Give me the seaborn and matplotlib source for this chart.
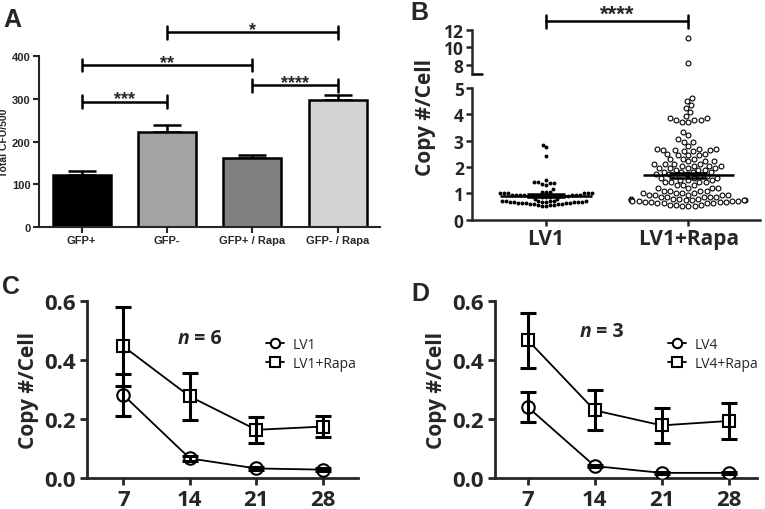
import numpy as np
import pandas as pd
import matplotlib
matplotlib.use("Agg")
import matplotlib.pyplot as plt
import seaborn as sns
import warnings
warnings.filterwarnings("ignore")

sns.set_style("ticks")
plt.rcParams["font.family"] = ["Open Sans", "DejaVu Sans"]

# ---------------- Panel A data ----------------
a_groups = ["GFP+", "GFP-", "GFP+ / Rapa", "GFP- / Rapa"]
a_means = [122, 223, 161, 298]
a_err = [9, 16, 8, 11]
a_colors = ["#000000", "#a3a3a3", "#808080", "#d4d4d4"]
a_yticks = [0, 100, 200, 300, 400]
a_sig_pairs = [(0, 1), (0, 2), (2, 3), (1, 3)]
a_sig_y = [293, 379, 332, 456]
a_sig_text = ["***", "**", "****", "*"]

# ---------------- Panel B data ----------------
b_groups = ["LV1", "LV1+Rapa"]
lv1_vals = [2.85, 2.75, 2.42, 1.52, 1.45, 1.42, 1.40, 1.38, 1.36, 1.33, 1.16,
            1.05, 1.00, 0.95, 0.92, 0.88, 0.80, 0.72, 0.68, 0.64, 0.60, 0.56, 0.52]
lv1_counts = [1, 1, 1, 1, 1, 1, 1, 1, 1, 1, 1,
              3, 6, 7, 7, 3, 2, 6, 7, 5, 4, 3, 2]
rapa_vals = [11.1, 8.2, 4.62, 4.5, 4.35, 4.25, 4.08, 3.92, 3.85, 3.78, 3.72,
             3.32, 3.2, 3.05, 2.95, 2.8, 2.7, 2.65, 2.6, 2.5, 2.45, 2.3, 2.22,
             2.12, 2.05, 1.97, 1.9, 1.82, 1.72, 1.65, 1.58, 1.5, 1.42, 1.3, 1.2,
             1.1, 1.02, 0.95, 0.88, 0.8, 0.74, 0.7, 0.66, 0.62, 0.58, 0.54]
rapa_counts = [1, 1, 1, 1, 1, 1, 1, 1, 2, 3, 2,
               1, 1, 1, 2, 1, 3, 3, 2, 2, 3, 3, 3,
               4, 4, 4, 3, 4, 3, 3, 3, 3, 4, 3, 4,
               4, 4, 5, 5, 4, 5, 4, 4, 4, 3, 3]
b_means = [0.92, 1.68]
b_sem = [0.05, 0.09]
b_low_ticks = [0, 1, 2, 3, 4, 5]
b_high_ticks = [8, 10, 12]

# ---------------- Panels C / D data ----------------
days = [7, 14, 21, 28]
c_lv1 = [0.281, 0.066, 0.032, 0.028]
c_lv1_err = [0.070, 0.008, 0.005, 0.004]
c_rapa = [0.446, 0.276, 0.163, 0.174]
c_rapa_err = [0.135, 0.080, 0.045, 0.036]
d_lv4 = [0.240, 0.040, 0.017, 0.017]
d_lv4_err = [0.052, 0.004, 0.003, 0.003]
d_rapa = [0.467, 0.229, 0.178, 0.193]
d_rapa_err = [0.093, 0.068, 0.059, 0.062]
cd_yticks = [0.0, 0.2, 0.4, 0.6]

fig = plt.figure(figsize=(7.65, 5.10), dpi=100)
ARIAL = ["Liberation Sans", "DejaVu Sans"]

# ================= Panel A =================
axA = fig.add_axes([0.051, 0.553, 0.446, 0.335])
dfA = pd.DataFrame({"group": a_groups, "cfu": a_means})
sns.barplot(data=dfA, x="group", y="cfu", hue="group", palette=a_colors,
            legend=False, width=0.68, edgecolor="black", linewidth=1.8,
            saturation=1, errorbar=None, ax=axA, zorder=2)
axA.errorbar(range(len(a_groups)), a_means, yerr=[np.zeros(len(a_err)), a_err],
             fmt="none", ecolor="black", elinewidth=1.8, capsize=10,
             capthick=1.8, zorder=1)
axA.set_xlim(-0.5, 3.5)
axA.set_ylim(0, 400)
axA.set_yticks(a_yticks)
axA.set_xlabel("")
axA.set_ylabel("Total CFU/500", fontsize=7.5, fontweight="bold", family=ARIAL, labelpad=2)
for s in ["top", "right"]:
    axA.spines[s].set_visible(False)
for s in ["left", "bottom"]:
    axA.spines[s].set_linewidth(1.5)
axA.tick_params(axis="both", width=1.5, length=4, direction="out", pad=2)
for lab in axA.get_yticklabels() + axA.get_xticklabels():
    lab.set_fontweight("bold")
    lab.set_family(ARIAL)
    lab.set_fontsize(8)
for (i, j), y, t in zip(a_sig_pairs, a_sig_y, a_sig_text):
    axA.plot([i, j], [y, y], color="black", lw=1.8, clip_on=False, solid_capstyle="butt")
    axA.plot([i, i], [y - 15, y + 15], color="black", lw=1.8, clip_on=False)
    axA.plot([j, j], [y - 15, y + 15], color="black", lw=1.8, clip_on=False)
    axA.text((i + j) / 2, y - 4, t, ha="center", va="baseline", fontsize=13,
             fontweight="bold", family=ARIAL, clip_on=False)

# ================= Panel B =================
lv1_all = np.repeat(lv1_vals, lv1_counts)
rapa_all = np.repeat(rapa_vals, rapa_counts)
dfB1 = pd.DataFrame({"group": "LV1", "copy": lv1_all})
dfB2 = pd.DataFrame({"group": "LV1+Rapa", "copy": rapa_all})

axBl = fig.add_axes([0.617, 0.567, 0.376, 0.259])
axBu = fig.add_axes([0.617, 0.853, 0.376, 0.086])
for ax in (axBl, axBu):
    sns.swarmplot(data=dfB1, x="group", y="copy", order=b_groups, color="black",
                  size=2.8, linewidth=0, ax=ax, warn_thresh=1)
    sns.swarmplot(data=dfB2, x="group", y="copy", order=b_groups, color="white",
                  edgecolor="black", linewidth=0.8, size=3.5, ax=ax, warn_thresh=1)
    ax.set_xlim(-0.52, 1.5)
    ax.set_xlabel("")
    ax.set_ylabel("")
    ax.spines["top"].set_visible(False)
    ax.spines["right"].set_visible(False)
    ax.spines["left"].set_linewidth(1.8)
    ax.spines["bottom"].set_linewidth(1.8)
    ax.tick_params(axis="both", width=1.8, length=4, direction="out", labelsize=12.5, pad=2)
    for i in range(len(b_groups)):
        ax.hlines(b_means[i], i - 0.32, i + 0.32, color="black", lw=1.8, zorder=5)
        ax.errorbar(i, b_means[i], yerr=b_sem[i], fmt="none", ecolor="black",
                    elinewidth=1.8, capsize=14, capthick=1.8, zorder=5)
axBl.set_ylim(0, 5)
axBl.set_yticks(b_low_ticks)
axBu.set_ylim(6.9, 12)
axBu.set_yticks(b_high_ticks)
axBu.spines["bottom"].set_visible(False)
axBu.tick_params(axis="x", bottom=False, labelbottom=False)
axBu.plot([0, 0.035], [6.9, 6.9], transform=axBu.get_yaxis_transform(),
          color="black", lw=1.8, clip_on=False)
for ax in (axBl, axBu):
    for lab in ax.get_yticklabels() + ax.get_xticklabels():
        lab.set_fontweight("bold")
for lab in axBl.get_xticklabels():
    lab.set_fontsize(15)
axBu.plot([0, 1], [13.06, 13.06], color="black", lw=1.8, clip_on=False)
axBu.plot([0, 0], [12.3, 13.8], color="black", lw=1.8, clip_on=False)
axBu.plot([1, 1], [12.3, 13.8], color="black", lw=1.8, clip_on=False)
axBu.text(0.5, 13.25, "****", ha="center", va="baseline", fontsize=16,
          fontweight="bold", family=ARIAL, clip_on=False)
fig.text(0.556, 0.77, "Copy #/Cell", rotation=90, ha="center", va="center",
         fontsize=15, fontweight="bold")


# ================= Panels C, D =================
def line_panel(rect, xlim, base, base_err, rapa, rapa_err, labels, ntext, npos):
    ax = fig.add_axes(rect)
    dfl = pd.DataFrame({"day": days + days,
                        "copy": list(base) + list(rapa),
                        "grp": [labels[0]] * len(days) + [labels[1]] * len(days)})
    sns.lineplot(data=dfl, x="day", y="copy", style="grp", markers=["o", "s"],
                 dashes=False, color="black", lw=1.3, markersize=9,
                 markerfacecolor="white", markeredgecolor="black",
                 markeredgewidth=1.5, ax=ax, zorder=3)
    ax.errorbar(days, base, yerr=base_err, fmt="none", ecolor="black",
                elinewidth=2.2, capsize=6, capthick=2.2, zorder=4)
    ax.errorbar(days, rapa, yerr=rapa_err, fmt="none", ecolor="black",
                elinewidth=2.2, capsize=6, capthick=2.2, zorder=4)
    ax.set_xlim(*xlim)
    ax.set_ylim(0, 0.6)
    ax.set_xticks(days)
    ax.set_xticklabels([str(d) for d in days])
    ax.set_yticks(cd_yticks)
    ax.set_yticklabels([f"{v:.1f}" for v in cd_yticks])
    ax.set_xlabel("")
    ax.set_ylabel("Copy #/Cell", fontsize=15, fontweight="bold", labelpad=4)
    for s in ["top", "right"]:
        ax.spines[s].set_visible(False)
    for s in ["left", "bottom"]:
        ax.spines[s].set_linewidth(2.0)
    ax.tick_params(axis="both", width=2.0, length=5, direction="out", labelsize=16, pad=3)
    for lab in ax.get_yticklabels() + ax.get_xticklabels():
        lab.set_fontweight("bold")
    ax.legend(loc="upper left", bbox_to_anchor=(0.64, 0.83), frameon=False,
              fontsize=10, handlelength=1.3, handletextpad=0.6,
              labelspacing=0.3, borderaxespad=0, markerscale=0.75)
    ax.text(npos[0], npos[1], "n", transform=ax.transAxes, ha="right", va="center",
            fontsize=14, fontweight="bold", style="italic")
    ax.text(npos[0], npos[1], " = " + ntext, transform=ax.transAxes, ha="left",
            va="center", fontsize=14, fontweight="bold")
    return ax


axC = line_panel([0.114, 0.061, 0.354, 0.347], (3.2, 31.7), c_lv1, c_lv1_err,
                 c_rapa, c_rapa_err, ["LV1", "LV1+Rapa"], "6", (0.376, 0.79))
axD = line_panel([0.647, 0.061, 0.343, 0.347], (3.57, 31.0), d_lv4, d_lv4_err,
                 d_rapa, d_rapa_err, ["LV4", "LV4+Rapa"], "3", (0.366, 0.83))

# Panel letters
for x, y, t in [(0.004, 0.985, "A"), (0.537, 0.998, "B"),
                (0.002, 0.46, "C"), (0.538, 0.448, "D")]:
    fig.text(x, y, t, fontsize=18, fontweight="bold", family=ARIAL,
             ha="left", va="top")

fig.savefig("out.png", dpi=100)
